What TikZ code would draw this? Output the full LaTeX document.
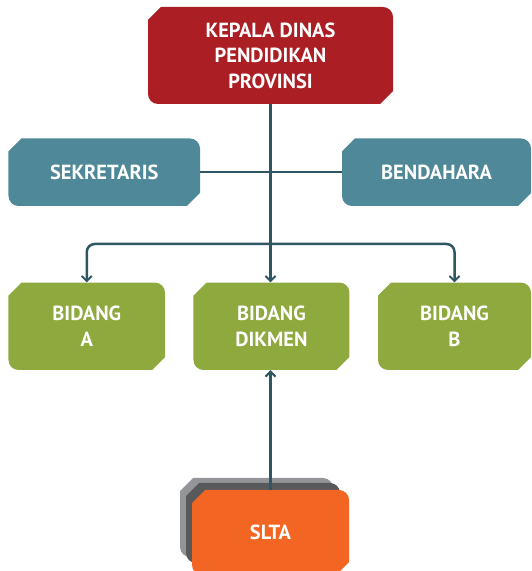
\documentclass[tikz,border=0pt]{standalone}
\usepackage{fontspec}
\setmainfont{PT Sans}
\usetikzlibrary{positioning}
\usetikzlibrary{arrows.meta}

\definecolor{headred}{HTML}{AB1E24}
\definecolor{staffteal}{HTML}{4F8898}
\definecolor{fieldgreen}{HTML}{8EA93E}
\definecolor{schoolorange}{HTML}{F26522}
\definecolor{layerdark}{HTML}{58595B}
\definecolor{layerlight}{HTML}{939598}
\definecolor{linkteal}{HTML}{2F5763}

\tikzset{
  orgbox/.style={text=white, font=\bfseries\fontsize{20.5}{25.5}\selectfont, align=center, inner sep=0pt,
    path picture={\fill[#1] ([yshift=-13bp]path picture bounding box.north west) -- ([xshift=13bp]path picture bounding box.north west)
      -- ([xshift=-10bp]path picture bounding box.north east) arc[start angle=90,end angle=0,radius=10bp]
      -- ([yshift=13bp]path picture bounding box.south east) -- ([xshift=-13bp]path picture bounding box.south east)
      -- ([xshift=10bp]path picture bounding box.south west) arc[start angle=270,end angle=180,radius=10bp] -- cycle;}},
  link/.style={draw=linkteal, line width=2.5bp},
  linkarrow/.style={link, -{Straight Barb[length=5bp,width=10bp,line width=2bp]}}
}

\begin{document}
\begin{tikzpicture}[x=1bp,y=1bp]
\useasboundingbox (0,0) rectangle (532,571);
\node[orgbox=headred, minimum width=245bp, minimum height=97bp] (kepala) at (270.5,515.5) {KEPALA DINAS\\PENDIDIKAN\\PROVINSI};

\node[orgbox=staffteal, minimum width=191.5bp, minimum height=67.5bp] (sekretaris) at (104.25,398.75) {SEKRETARIS};
\node[orgbox=staffteal, minimum width=189bp, minimum height=67.5bp] (bendahara) at (436.5,398.75) {BENDAHARA};

\node[orgbox=fieldgreen, minimum width=156.5bp, minimum height=87.4bp] (bidanga) at (86.75,244.7) {BIDANG\\A};
\node[orgbox=fieldgreen, minimum width=156bp, minimum height=87.4bp] (dikmen) at (271.45,244.7) {BIDANG\\DIKMEN};
\node[orgbox=fieldgreen, minimum width=153bp, minimum height=87.4bp] (bidangb) at (454.5,244.7) {BIDANG\\B};

% stacked layers behind SLTA
\node[orgbox=layerlight, minimum width=153bp, minimum height=79bp] (sltaback) at (256.5,53.5) {};
\node[orgbox=layerdark, minimum width=154bp, minimum height=80bp] (sltamid) at (263,48) {};
\node[orgbox=schoolorange, minimum width=157bp, minimum height=85bp] (slta) at (270.5,38.5) {SLTA};

\coordinate (forky) at (0,327);
\draw[link] (sekretaris) -- (bendahara);
\draw[linkarrow] (kepala.south) -- (kepala.south |- dikmen.north);
\draw[linkarrow, rounded corners=8bp] (kepala.south |- forky) -| (bidanga.north);
\draw[linkarrow, rounded corners=8bp] (kepala.south |- forky) -| (bidangb.north);
\draw[linkarrow] (slta.north) -- (slta.north |- dikmen.south);
\end{tikzpicture}
\end{document}
